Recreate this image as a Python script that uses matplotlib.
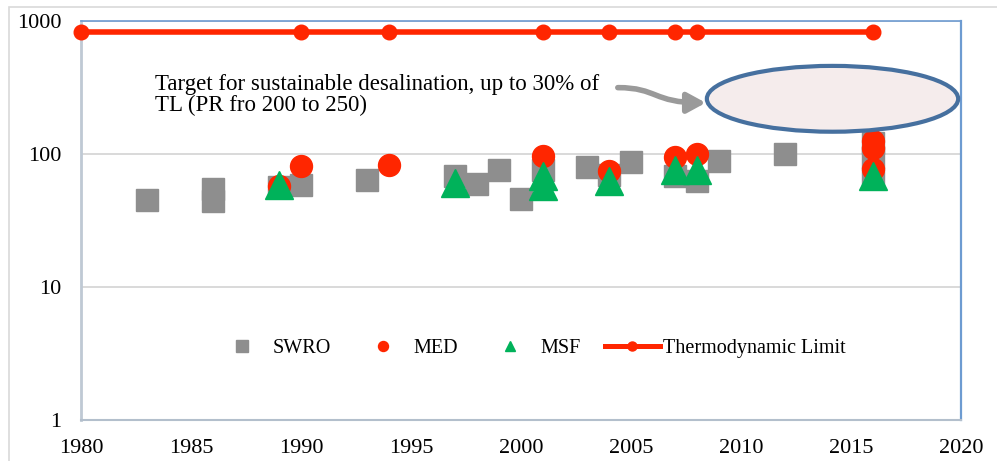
import matplotlib.pyplot as plt
import numpy as np
from matplotlib.lines import Line2D
from matplotlib.patches import Ellipse, FancyArrowPatch, Rectangle
from matplotlib.path import Path
from matplotlib.ticker import FixedLocator, FixedFormatter

plt.rcParams['font.family'] = ['Liberation Serif', 'DejaVu Serif']

# data
swro_year = [1983, 1986, 1986, 1989, 1990, 1993, 1997, 1998, 1999, 2000, 2001,
             2003, 2004, 2005, 2007, 2008, 2009, 2012, 2016, 2016, 2016]
swro_val = [45, 55, 44, 56.5, 58.5, 64, 68, 59.5, 76, 46, 76,
            80, 70, 87, 68, 63, 89, 100, 120, 95, 66]

med_year = [1989, 1990, 1994, 2001, 2004, 2007, 2008, 2016, 2016, 2016]
med_val = [57, 81, 83, 97, 74.5, 95, 100, 125, 111, 77]

msf_year = [1989, 1997, 2001, 2001, 2004, 2007, 2008, 2016]
msf_val = [58.5, 60.5, 68, 57, 63, 76, 76, 68]

tl_year = [1980, 1990, 1994, 2001, 2004, 2007, 2008, 2016]
tl_val = [830] * len(tl_year)

x_ticks = [1980, 1985, 1990, 1995, 2000, 2005, 2010, 2015, 2020]
y_ticks = [1, 10, 100, 1000]
y_labels = ['1', '10', '100', '1000']

note = 'Target for sustainable desalination, up to 30% of\nTL (PR fro 200 to 250)'

GRAY = '#8e8e8e'
RED = '#ff2600'
GREEN = '#00b25a'

fig = plt.figure(figsize=(9.97, 4.61), dpi=100)
ax = fig.add_axes([81 / 997, 1 - 420 / 461, 880 / 997, 399 / 461])

# light frame round the whole picture
fig.patches.append(Rectangle((9 / 997, -0.01), 1.0, 1 - 7 / 461 + 0.01,
                             transform=fig.transFigure, fill=False,
                             edgecolor='#d9d9d9', linewidth=1.2))

ax.plot(swro_year, swro_val, 's', color=GRAY, markersize=15.8, zorder=3)
ax.plot(med_year, med_val, 'o', color=RED, markersize=15.8, zorder=4)
ax.plot(msf_year, msf_val, '^', color=GREEN, markersize=19.5, zorder=5)
ax.plot(tl_year, tl_val, '-o', color=RED, linewidth=4, markersize=10.5,
        zorder=6, clip_on=False)

ax.set_yscale('log')
ax.set_xlim(1980, 2020)
ax.set_ylim(1, 1000)
ax.xaxis.set_major_locator(FixedLocator(x_ticks))
ax.yaxis.set_major_locator(FixedLocator(y_ticks))
ax.yaxis.set_major_formatter(FixedFormatter(y_labels))
ax.yaxis.set_minor_locator(FixedLocator([]))
ax.tick_params(axis='both', length=0, labelsize=16)
ax.tick_params(axis='x', pad=14)
ax.tick_params(axis='y', pad=14)
ax.grid(axis='y', color='#d9d9d9', linewidth=1.4)
ax.set_axisbelow(True)

ax.spines['left'].set_color('#bfc9d4')
ax.spines['left'].set_linewidth(2)
ax.spines['bottom'].set_color('#b3bfcc')
ax.spines['bottom'].set_linewidth(1.5)
ax.spines['top'].set_color('#6d9bd1')
ax.spines['top'].set_linewidth(1.2)
ax.spines['right'].set_color('#6d9bd1')
ax.spines['right'].set_linewidth(1.6)

# target ellipse and note
ax.add_patch(Ellipse((0.854, 0.805), 0.2856, 0.165, transform=ax.transAxes,
                     facecolor='#f5ecec', edgecolor='#46709f', linewidth=3,
                     zorder=7))
ax.text((155 - 81) / 880, (420 - 95) / 399, note,
        transform=ax.transAxes, fontsize=16.5, linespacing=0.95,
        va='center', ha='left', zorder=8)
verts = [(0.610, 0.833), (0.655, 0.833), (0.650, 0.795), (0.710, 0.795)]
arrow_path = Path(verts, [Path.MOVETO, Path.CURVE4, Path.CURVE4, Path.CURVE4])
ax.add_patch(FancyArrowPatch(path=arrow_path, transform=ax.transAxes,
                             arrowstyle='-|>,head_length=11,head_width=6',
                             color='#9a9a9a', linewidth=4, zorder=8))

handles = [
    Line2D([], [], linestyle='none', marker='s', color=GRAY, markersize=8),
    Line2D([], [], linestyle='none', marker='o', color=RED, markersize=7.2),
    Line2D([], [], linestyle='none', marker='^', color=GREEN, markersize=7.5),
    Line2D([], [], linestyle='-', marker='o', color=RED, linewidth=3.6,
           markersize=6.5),
]
ax.legend(handles, ['SWRO', 'MED', 'MSF', 'Thermodynamic Limit'],
          loc='center', bbox_to_anchor=(0.51, 0.18), ncol=4, frameon=False,
          fontsize=14.5, handlelength=2.75, handletextpad=0.15,
          columnspacing=1.2)

plt.savefig('out.png', dpi=100)
